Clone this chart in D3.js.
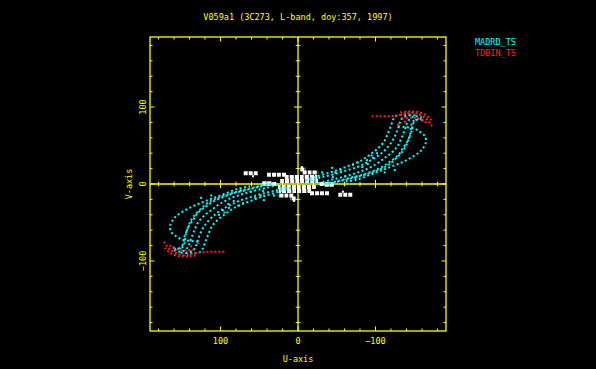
<!DOCTYPE html>
<html lang="en">
<head>
    <meta charset="UTF-8">
    <script src="https://d3js.org/d3.v7.min.js"></script>
    <title>V059a1 uv coverage</title>
    <style>
        html,body{margin:0;padding:0;background:#000;}
        svg{display:block;}
        text{font-family:'DejaVu Sans Mono', monospace;font-size:8.5px;}
    </style>
</head>
<body>
    <div id="chart"></div>
    <script>
// uv tracks, [u, v] in klambda; the conjugate half is drawn from the same points
var madrdTracks = [
    [[-9,5],[-22,9],[-35,13],[-48,17],[-61,22],[-74,27],[-84,32],[-94,39],[-103,46],[-111,55],[-116,66],[-120,76],[-123,84],[-126,88],[-134,90],[-145,90]],
    [[-15,4],[-28,8],[-44,12],[-61,17],[-76,22],[-89,28],[-101,35],[-111,43],[-119,52],[-125,62],[-129,72],[-132,81],[-135,86],[-142,89],[-152,89]],
    [[-26,1],[-41,5],[-57,9],[-74,14],[-88,19],[-101,26],[-112,34],[-121,41],[-129,50],[-134,61],[-138,71],[-141,80],[-145,85],[-151,88],[-160,86]],
    [[-35,0],[-52,4],[-67,8],[-83,12],[-97,17],[-110,23],[-120,30],[-129,37],[-135,46],[-141,55],[-145,66],[-146,75],[-148,81],[-155,84],[-164,81]],
    [[-39,0],[-55,4],[-71,8],[-86,12],[-101,17],[-114,23],[-124,31],[-133,40],[-139,49],[-143,59],[-147,70],[-148,77],[-152,83],[-159,84]],
    [[-129,75],[-139,74],[-150,72],[-157,68],[-164,62],[-165,54],[-161,46],[-155,40],[-147,35],[-138,30],[-129,26],[-119,22],[-106,17],[-93,12],[-77,6],[-62,3]]
];
var madrdScatter = [
    [-71,25],[-77,28],[-83,22],[-89,31],[-90,26],[-95,37],[-97,34],[-102,40],[-55,18],[-48,15],
    [-45,9],[-44,21],[-31,15],[-61,10],[-74,8],[-112,15],[-125,18]
];
var tdbinTracks = [
    [[-95,88],[-103,88],[-111,88],[-119,88],[-126,89],[-134,90],[-142,92],[-150,92],[-157,90],[-164,86],[-169,81],[-173,75]],
    [[-132,93],[-141,94],[-150,94],[-157,93],[-164,90],[-169,86],[-172,83]],
    [[-134,85],[-142,86],[-150,86],[-157,85],[-164,81],[-168,77]]
];
var tdbinScatter = [[-129,77],[-138,81]];
var otherTracks = [
    [[40,12],[27,12],[14,12]],
    [[17,9],[-4,9],[-25,9]],
    [[23,4],[-2,4],[-26,4]],
    [[-6,15],[-16,15],[-26,15]],
    [[46,1],[34,1]],
    [[-28,0],[-46,0]],
    [[-3,19],[-10,19]],
    [[-52,-14],[-71,-14]]
];
var otherScatter = [[-58,-10], [-5,22]];
var legendNames = ["MADRD_TS", "TDBIN_TS"];
var legendColors = ["#00ffff", "#ff2020"];
var majorTicks = [-100, 0, 100];

var width = 596, height = 369;

var svg = d3.select("#chart").append("svg")
    .attr("width", width)
    .attr("height", height)
    .style("background", "#000");

var yellow = "#ffff00";

// u runs right to left
var x = d3.scaleLinear().domain([191, -191]).range([150, 446]);
var y = d3.scaleLinear().domain([-191, 191]).range([331, 37]);

var minor = d3.range(-180, 181, 20);

var axes = svg.append("g").attr("stroke", yellow).attr("fill", "none");

axes.append("rect")
    .attr("x", x(191)).attr("y", y(191))
    .attr("width", x(-191) - x(191)).attr("height", y(-191) - y(191))
    .attr("stroke-width", 1.3);

function tickLen(d) { return majorTicks.indexOf(d) >= 0 ? 4.5 : 2.5; }

// frame ticks, pointing inward
minor.forEach(function(d){
    var l = tickLen(d);
    axes.append("line").attr("x1", x(d)).attr("x2", x(d)).attr("y1", y(-191)).attr("y2", y(-191) - l);
    axes.append("line").attr("x1", x(d)).attr("x2", x(d)).attr("y1", y(191)).attr("y2", y(191) + l);
    axes.append("line").attr("y1", y(d)).attr("y2", y(d)).attr("x1", x(191)).attr("x2", x(191) + l);
    axes.append("line").attr("y1", y(d)).attr("y2", y(d)).attr("x1", x(-191)).attr("x2", x(-191) - l);
});

// zero lines with crossing ticks
axes.append("line").attr("x1", x(0)).attr("x2", x(0)).attr("y1", y(191)).attr("y2", y(-191)).attr("stroke-width", 1.3);
axes.append("line").attr("y1", y(0)).attr("y2", y(0)).attr("x1", x(191)).attr("x2", x(-191)).attr("stroke-width", 1.3);
minor.forEach(function(d){
    var l = majorTicks.indexOf(d) >= 0 ? 4 : 2.3;
    if (d === 0) return;
    axes.append("line").attr("x1", x(d)).attr("x2", x(d)).attr("y1", y(0) - l).attr("y2", y(0) + l);
    axes.append("line").attr("y1", y(d)).attr("y2", y(d)).attr("x1", x(0) - l).attr("x2", x(0) + l);
});

var fmt = function(d){ return d < 0 ? "\u2212" + Math.abs(d) : String(d); };

svg.selectAll(".ulab").data(majorTicks).enter().append("text")
    .attr("class", "ulab")
    .attr("x", function(d){ return x(d); })
    .attr("y", 343.5)
    .attr("text-anchor", "middle")
    .attr("fill", yellow)
    .text(fmt);

svg.selectAll(".vlab").data(majorTicks).enter().append("text")
    .attr("class", "vlab")
    .attr("transform", function(d){ return "translate(145.5," + y(d) + ") rotate(-90)"; })
    .attr("text-anchor", "middle")
    .attr("fill", yellow)
    .text(fmt);

svg.append("text").attr("x", x(0)).attr("y", 362).attr("text-anchor", "middle")
    .attr("fill", yellow).text("U-axis");
svg.append("text").attr("transform", "translate(131.5," + y(0) + ") rotate(-90)")
    .attr("text-anchor", "middle").attr("fill", yellow).text("V-axis");
svg.append("text").attr("x", 298).attr("y", 19.5).attr("text-anchor", "middle")
    .attr("fill", yellow).text("V059a1 (3C273, L-band, doy:357, 1997)");

svg.selectAll(".leg").data(legendNames).enter().append("text")
    .attr("class", "leg")
    .attr("x", 475)
    .attr("y", function(d, i){ return 44.5 + i * 11; })
    .attr("fill", function(d, i){ return legendColors[i]; })
    .text(function(d){ return d; });

// data
var line = d3.line()
    .x(function(d){ return x(d[0]); })
    .y(function(d){ return y(d[1]); })
    .curve(d3.curveCatmullRom);

function conj(p) { return p.map(function(d){ return [-d[0], -d[1]]; }); }

function drawTracks(tracks, color, dash, w) {
    var all = tracks.concat(tracks.map(conj));
    svg.append("g").selectAll("path").data(all).enter().append("path")
        .attr("d", line)
        .attr("fill", "none")
        .attr("stroke", color)
        .attr("stroke-width", w)
        .attr("stroke-dasharray", dash);
}

function drawScatter(pts, color) {
    var all = pts.concat(conj(pts));
    svg.append("g").selectAll("rect").data(all).enter().append("rect")
        .attr("x", function(d){ return x(d[0]) - 1; })
        .attr("y", function(d){ return y(d[1]) - 1; })
        .attr("width", 2).attr("height", 2)
        .attr("fill", color);
}

drawTracks(otherTracks, "#ffffff", "4,1", 4);
drawScatter(otherScatter, "#ffffff");
drawTracks(madrdTracks, legendColors[0], "2,2.5", 2);
drawScatter(madrdScatter, legendColors[0]);
drawTracks(tdbinTracks, legendColors[1], "2,2", 2);
drawScatter(tdbinScatter, legendColors[1]);
    </script>
</body>
</html>
